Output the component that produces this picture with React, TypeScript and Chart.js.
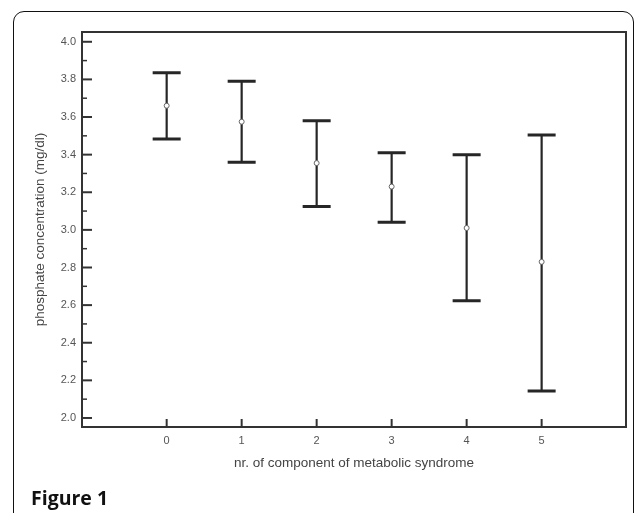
import React, { useEffect, useRef } from "react";
import { Chart, registerables } from "chart.js";

Chart.register(...registerables);

const categories = [0, 1, 2, 3, 4, 5];
const means = [3.66, 3.575, 3.355, 3.23, 3.01, 2.83];
const upperValues = [3.835, 3.79, 3.58, 3.41, 3.4, 3.505];
const lowerValues = [3.483, 3.36, 3.124, 3.04, 2.623, 2.144];
const yTickValues = [2.0, 2.2, 2.4, 2.6, 2.8, 3.0, 3.2, 3.4, 3.6, 3.8, 4.0];
const yMinorTickValues = [2.1, 2.3, 2.5, 2.7, 2.9, 3.1, 3.3, 3.5, 3.7, 3.9];
const xTickValues = [0, 1, 2, 3, 4, 5];
const yTitle = "phosphate concentration (mg/dl)";
const xTitle = "nr. of component of metabolic syndrome";
const figureLabel = "Figure 1";

const FONT = "'Liberation Sans', Arial, sans-serif";

const errorBarPlugin = {
  id: "errorBars",
  beforeDatasetsDraw(chart: any) {
    const { ctx, chartArea: a, scales } = chart;
    const x = scales.x;
    const y = scales.y;
    ctx.save();
    // error bars
    ctx.strokeStyle = "#262626";
    ctx.lineCap = "butt";
    categories.forEach((c, i) => {
      const px = x.getPixelForValue(c);
      const yt = y.getPixelForValue(upperValues[i]);
      const yb = y.getPixelForValue(lowerValues[i]);
      ctx.lineWidth = 2.2;
      ctx.beginPath();
      ctx.moveTo(px, yt);
      ctx.lineTo(px, yb);
      ctx.stroke();
      ctx.lineWidth = 3;
      ctx.beginPath();
      ctx.moveTo(px - 14, yt);
      ctx.lineTo(px + 14, yt);
      ctx.moveTo(px - 14, yb);
      ctx.lineTo(px + 14, yb);
      ctx.stroke();
    });
    // frame
    ctx.strokeStyle = "#333";
    ctx.lineWidth = 2;
    ctx.strokeRect(a.left, a.top, a.right - a.left, a.bottom - a.top);
    // y ticks (inward)
    ctx.lineWidth = 2;
    yTickValues.forEach((v) => {
      const py = y.getPixelForValue(v);
      ctx.beginPath();
      ctx.moveTo(a.left, py);
      ctx.lineTo(a.left + 10, py);
      ctx.stroke();
    });
    ctx.lineWidth = 1.5;
    yMinorTickValues.forEach((v) => {
      const py = y.getPixelForValue(v);
      ctx.beginPath();
      ctx.moveTo(a.left, py);
      ctx.lineTo(a.left + 5, py);
      ctx.stroke();
    });
    // x ticks (inward)
    ctx.lineWidth = 2;
    xTickValues.forEach((v) => {
      const px = x.getPixelForValue(v);
      ctx.beginPath();
      ctx.moveTo(px, a.bottom);
      ctx.lineTo(px, a.bottom - 8);
      ctx.stroke();
    });
    ctx.restore();
  },
};

export default function App() {
  const canvasRef = useRef<HTMLCanvasElement | null>(null);

  useEffect(() => {
    if (!canvasRef.current) return;
    const chart = new Chart(canvasRef.current, {
      type: "scatter",
      data: {
        datasets: [
          {
            data: categories.map((c, i) => ({ x: c, y: means[i] })),
            showLine: false,
            pointRadius: 2.5,
            pointBackgroundColor: "#ffffff",
            pointBorderColor: "#666",
            pointBorderWidth: 1,
          },
        ],
      },
      options: {
        animation: false,
        responsive: false,
        devicePixelRatio: 1,
        layout: { padding: { left: 0, top: 32, right: 9, bottom: 0 } },
        plugins: { legend: { display: false }, tooltip: { enabled: false } },
        scales: {
          x: {
            type: "linear",
            min: -1.129,
            max: 6.125,
            grid: { display: false, drawTicks: false },
            border: { display: false },
            afterBuildTicks: (scale: any) => {
              scale.ticks = xTickValues.map((v) => ({ value: v }));
            },
            afterFit: (scale: any) => {
              scale.height = 86;
            },
            ticks: {
              padding: 7,
              color: "#555",
              font: { family: FONT, size: 11 },
              callback: (v: any) => String(v),
            },
            title: {
              display: true,
              text: xTitle,
              color: "#444",
              font: { family: FONT, size: 13.5 },
              padding: { top: 0, bottom: 42 },
            },
          },
          y: {
            type: "linear",
            min: 1.952,
            max: 4.052,
            grid: { display: false, drawTicks: false },
            border: { display: false },
            afterBuildTicks: (scale: any) => {
              scale.ticks = yTickValues.map((v) => ({ value: v }));
            },
            afterFit: (scale: any) => {
              scale.width = 82;
            },
            ticks: {
              padding: 6,
              color: "#555",
              font: { family: FONT, size: 11 },
              callback: (v: any) => Number(v).toFixed(1),
            },
            title: {
              display: true,
              text: yTitle,
              color: "#444",
              font: { family: FONT, size: 13.5 },
              padding: { top: 32, bottom: 0 },
            },
          },
        },
      },
      plugins: [errorBarPlugin],
    });
    return () => chart.destroy();
  }, []);

  return (
    <div
      style={{
        position: "absolute",
        left: 0,
        top: 0,
        width: 635,
        height: 513,
        overflow: "hidden",
        background: "#fff",
      }}
    >
      <div
        style={{
          position: "absolute",
          left: 13,
          top: 11,
          width: 621,
          height: 540,
          boxSizing: "border-box",
          border: "1.6px solid #111",
          borderRadius: "11px 11px 0 0",
        }}
      />
      <canvas
        ref={canvasRef}
        width={635}
        height={513}
        style={{ position: "absolute", left: 0, top: 0, width: 635, height: 513 }}
      />
      <div
        style={{
          position: "absolute",
          left: 31,
          top: 488,
          lineHeight: 1,
          fontFamily: "'Open Sans', sans-serif",
          fontWeight: 700,
          fontSize: 19.5,
          color: "#111",
          whiteSpace: "nowrap",
        }}
      >
        {figureLabel}
      </div>
    </div>
  );
}
